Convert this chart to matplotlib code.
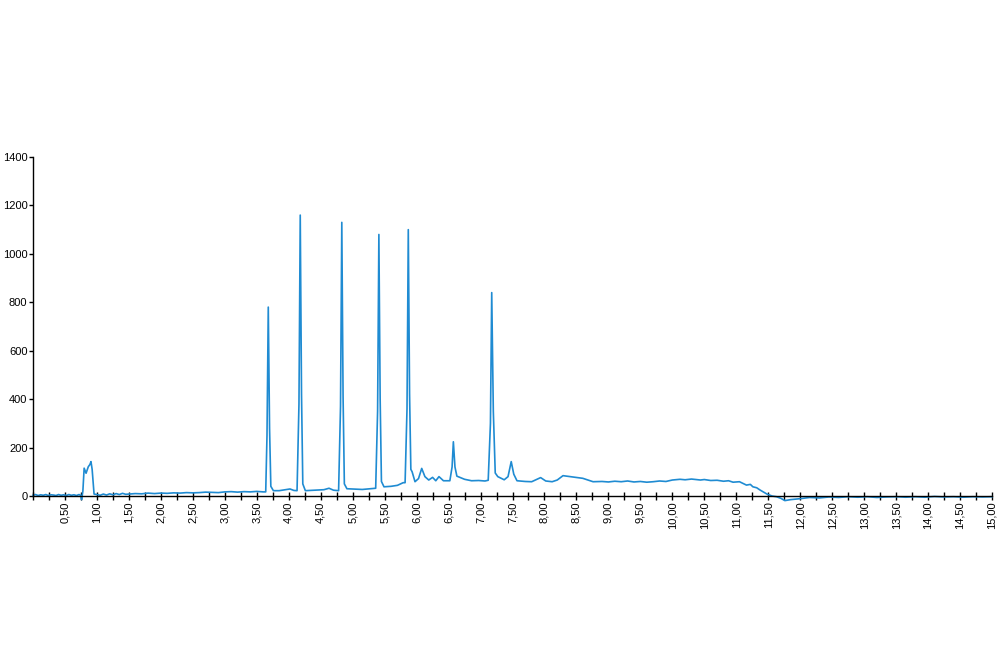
import matplotlib
matplotlib.use("Agg")
import matplotlib.pyplot as plt
from matplotlib.ticker import MultipleLocator, FuncFormatter

# retention time (min) and detector signal
times = [
    0.00, 0.04, 0.08, 0.12, 0.16, 0.20, 0.24, 0.28, 0.32, 0.36, 0.40, 0.44, 0.48, 0.52, 0.56, 0.60, 0.64, 0.68, 0.72, 0.745,
    0.76, 0.78, 0.80, 0.83, 0.865, 0.89, 0.907, 0.925, 0.955,
    1.00, 1.05, 1.10, 1.15, 1.20, 1.25, 1.30, 1.35, 1.40, 1.45, 1.50, 1.60, 1.70, 1.80, 1.90, 2.00,
    2.10, 2.20, 2.30, 2.40, 2.50, 2.60, 2.70, 2.80, 2.90, 3.00, 3.10, 3.20, 3.30, 3.40, 3.50, 3.60, 3.64,
    3.66, 3.68, 3.70, 3.72, 3.76, 3.85, 3.95, 4.02, 4.08, 4.13,
    4.16, 4.18, 4.20, 4.22, 4.26, 4.40, 4.55, 4.63, 4.70, 4.78,
    4.81, 4.83, 4.85, 4.87, 4.91, 5.05, 5.15, 5.24, 5.32, 5.36,
    5.39, 5.41, 5.43, 5.45, 5.49, 5.60, 5.70, 5.79, 5.82,
    5.85, 5.87, 5.89, 5.91, 5.93, 5.975, 6.03, 6.08, 6.13, 6.19, 6.25, 6.30, 6.35, 6.42, 6.52,
    6.555, 6.575, 6.60, 6.63, 6.75, 6.86, 6.97, 7.07, 7.12,
    7.155, 7.175, 7.20, 7.23, 7.27, 7.37, 7.43, 7.48, 7.52, 7.57,
    7.70, 7.80, 7.94, 8.02, 8.12, 8.20, 8.29, 8.40, 8.50, 8.60, 8.76, 8.90,
    9.00, 9.10, 9.20, 9.30, 9.40, 9.50, 9.60, 9.70, 9.80, 9.90, 10.00, 10.12, 10.20, 10.30,
    10.44, 10.50, 10.60, 10.70, 10.80, 10.88, 10.95, 11.05,
    11.16, 11.22, 11.26, 11.32, 11.37, 11.48, 11.56, 11.63, 11.70, 11.76, 11.85, 12.00,
    12.15, 12.30, 12.45, 12.60, 12.75, 12.90, 13.05, 13.20, 13.35, 13.50, 13.65, 13.80,
    13.95, 14.10, 14.25, 14.40, 14.55, 14.70, 14.85, 15.00,
]
signal = [
    3, 6, 2, 5, 3, 6, 2, 5, 4, 2, 6, 3, 5, 2, 6, 3, 5, 2, 6, 3,
    -15, 20, 115, 94, 121, 130, 142, 110, 8,
    6, 3, 8, 4, 9, 5, 10, 6, 11, 7, 8, 10, 9, 12, 10, 12,
    11, 13, 12, 14, 13, 14, 16, 15, 14, 17, 18, 16, 18, 17, 19, 17, 17,
    250, 780, 280, 40, 22, 22, 26, 29, 23, 22,
    380, 1160, 420, 50, 22, 24, 26, 32, 24, 22,
    370, 1130, 410, 50, 30, 28, 27, 29, 31, 32,
    350, 1080, 400, 60, 38, 40, 44, 55, 55,
    360, 1100, 420, 110, 100, 59, 72, 114, 80, 66, 77, 63, 80, 63, 63,
    120, 224, 120, 82, 69, 63, 64, 62, 65,
    300, 840, 350, 95, 80, 67, 80, 142, 90, 63,
    60, 59, 76, 62, 59, 66, 84, 80, 76, 73, 59, 60,
    58, 61, 59, 62, 58, 60, 57, 59, 62, 60, 66, 69, 67, 70,
    66, 68, 64, 65, 61, 63, 57, 59,
    45, 48, 38, 34, 25, 8, 0, -3, -10, -19, -15, -11,
    -6, -8, -4, -6, -3, -5, -3, -6, -4, -3, -5, -3,
    -5, -2, -4, -3, -5, -3, -4, -3,
]

y_ticks = [0, 200, 400, 600, 800, 1000, 1200, 1400]

plt.rcParams["font.family"] = ["Liberation Sans", "DejaVu Sans"]

fig = plt.figure(figsize=(10, 6.71), dpi=100)
ax = fig.add_axes([0.033, 0.2608, 0.959, 0.5052])
ax.plot(times, signal, color="#1f8bd2", lw=1.2, clip_on=False, solid_joinstyle="round")

ax.set_xlim(0, 15)
ax.set_ylim(0, 1400)
ax.set_yticks(y_ticks)
ax.xaxis.set_major_locator(MultipleLocator(0.5))
ax.xaxis.set_minor_locator(MultipleLocator(0.25))
ax.xaxis.set_major_formatter(FuncFormatter(
    lambda v, p: "" if v < 0.01 else f"{v:.2f}".replace(".", ",")))

for s in ("top", "right"):
    ax.spines[s].set_visible(False)
for s in ("left", "bottom"):
    ax.spines[s].set_color("black")
    ax.spines[s].set_linewidth(1.0)

ax.tick_params(axis="x", which="both", direction="inout", length=6, width=1,
               labelsize=8, labelrotation=90, pad=1, colors="black")
ax.tick_params(axis="y", direction="out", length=3, width=1, labelsize=8, pad=1)

fig.savefig("out.png", dpi=100)
